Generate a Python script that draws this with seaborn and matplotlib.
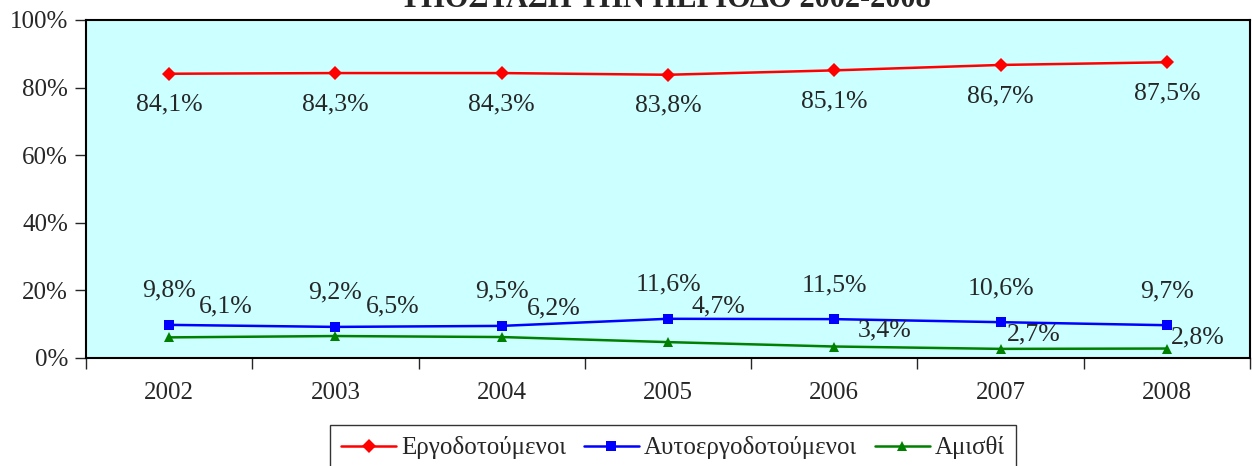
import numpy as np
import pandas as pd
import seaborn as sns
import matplotlib.pyplot as plt
from matplotlib.ticker import PercentFormatter, FixedLocator

years = ['2002', '2003', '2004', '2005', '2006', '2007', '2008']
employees = [84.1, 84.3, 84.3, 83.8, 85.1, 86.7, 87.5]
self_employed = [9.8, 9.2, 9.5, 11.6, 11.5, 10.6, 9.7]
unpaid = [6.1, 6.5, 6.2, 4.7, 3.4, 2.7, 2.8]
series_names = ['Εργοδοτούμενοι', 'Αυτοεργοδοτούμενοι', 'Αμισθί']
title = 'ΥΠΟΣΤΑΣΗ ΤΗΝ ΠΕΡΙΟΔΟ 2002-2008'

# label offsets (pixels) for the green series, placed by hand in the original
green_offsets = [(57, 31), (57, 30), (52, 29), (50, 36), (50, 16), (33, 14), (31, 11)]

sns.set_style('ticks')
plt.rcParams['font.family'] = ['Liberation Serif', 'DejaVu Serif']

df = pd.DataFrame({
    'year': years * 3,
    'value': employees + self_employed + unpaid,
    'series': [series_names[0]] * 7 + [series_names[1]] * 7 + [series_names[2]] * 7,
})

colors = {series_names[0]: '#FF0000', series_names[1]: '#0000FF', series_names[2]: '#008000'}
markers = {series_names[0]: 'D', series_names[1]: 's', series_names[2]: '^'}

fig = plt.figure(figsize=(12.52, 4.66), dpi=100)
ax = fig.add_axes([86 / 1252, 1 - 358 / 466, (1250 - 86) / 1252, (358 - 20) / 466])
ax.set_facecolor('#CCFFFF')

sns.lineplot(data=df, x='year', y='value', hue='series', style='series',
             palette=colors, markers=markers, dashes=False, linewidth=1.8,
             markersize=7.5, markeredgewidth=0, ax=ax, legend=True)

ax.set_xlim(-0.5, 6.5)
ax.set_ylim(0, 100)
ax.set_xlabel('')
ax.set_ylabel('')
ax.yaxis.set_major_locator(FixedLocator([0, 20, 40, 60, 80, 100]))
ax.yaxis.set_major_formatter(PercentFormatter(decimals=0))
ax.set_xticks(range(7))
ax.set_xticklabels(years)
ax.xaxis.set_minor_locator(FixedLocator(np.arange(-0.5, 7, 1)))
ax.tick_params(axis='x', which='major', length=0, pad=17, labelsize=18)
ax.tick_params(axis='x', which='minor', length=8, width=1, direction='out')
ax.tick_params(axis='y', length=8, width=1, direction='out', labelsize=18, pad=5)
for s in ax.spines.values():
    s.set_color('black')
    s.set_linewidth(1.5)

def fmt(v):
    return f'{v:.1f}%'.replace('.', ',')

for i, v in enumerate(employees):
    ax.annotate(fmt(v), (i, v), xytext=(0, -31), textcoords='offset pixels',
                ha='center', va='center', fontsize=18.5)
for i, v in enumerate(self_employed):
    ax.annotate(fmt(v), (i, v), xytext=(0, 34), textcoords='offset pixels',
                ha='center', va='center', fontsize=18.5)
for i, v in enumerate(unpaid):
    ax.annotate(fmt(v), (i, v), xytext=green_offsets[i], textcoords='offset pixels',
                ha='center', va='center', fontsize=18.5)

handles, labels = ax.get_legend_handles_labels()
ax.get_legend().remove()
leg = fig.legend(handles, labels, loc='upper center', ncol=3,
                 bbox_to_anchor=(673 / 1252, 1 - 425 / 466), frameon=True,
                 fancybox=False, edgecolor='black', fontsize=18,
                 handlelength=2.2, handletextpad=0.2, columnspacing=0.7,
                 borderpad=0.45, borderaxespad=0)
leg.get_frame().set_linewidth(1.0)

fig.text(665 / 1252, 1 - 7 / 466, title, ha='center', va='baseline',
         fontsize=22, fontweight='bold')

fig.savefig('out.png', dpi=100)
